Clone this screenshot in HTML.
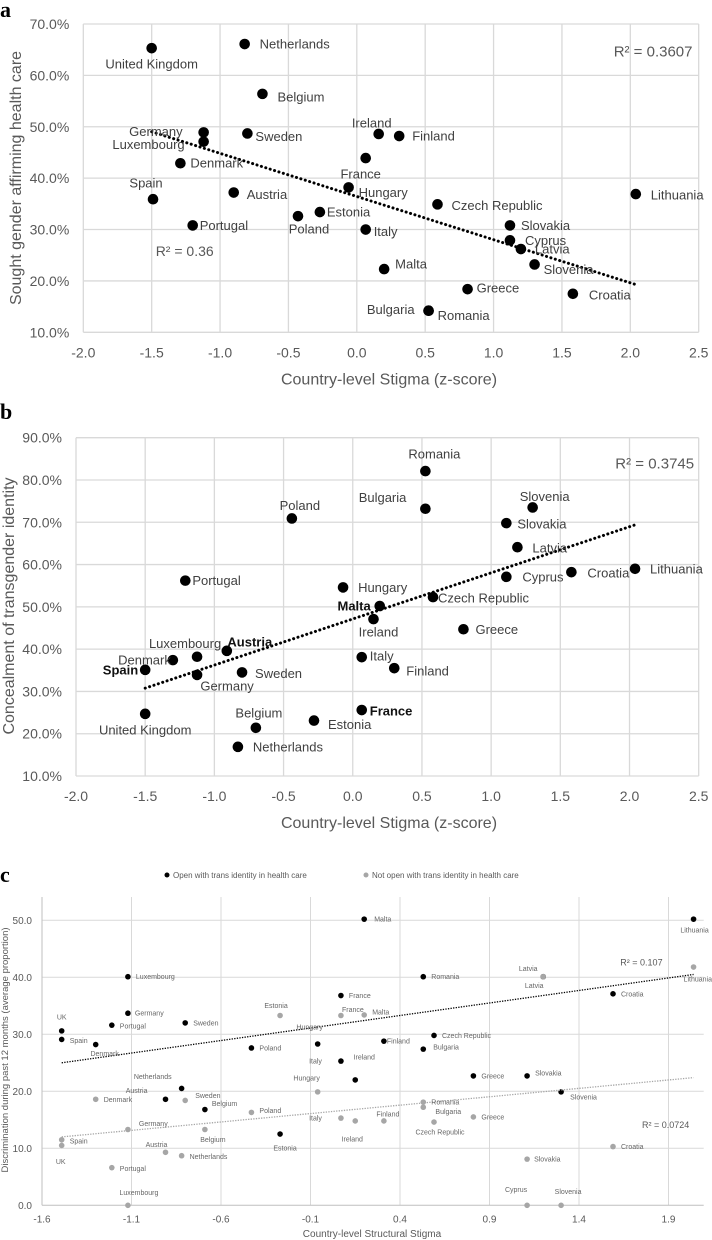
<!DOCTYPE html>
<html><head><meta charset="utf-8">
<style>
html,body{margin:0;padding:0;background:#fff;}
svg{display:block;font-family:"Liberation Sans",sans-serif;}
</style></head>
<body>
<svg id="chart" width="712" height="1240" viewBox="0 0 712 1240" xmlns="http://www.w3.org/2000/svg">
<text x="0" y="17" font-family="Liberation Serif,serif" font-weight="bold" font-size="22" fill="#000">a</text>
<text x="0" y="419" font-family="Liberation Serif,serif" font-weight="bold" font-size="22" fill="#000">b</text>
<text x="0" y="882" font-family="Liberation Serif,serif" font-weight="bold" font-size="22" fill="#000">c</text>
</svg>
<script>
// ---- Panel A data ----
const aCountries = ["United Kingdom","Netherlands","Belgium","Germany","Luxembourg","Sweden","Denmark","Spain","Austria","Portugal","Poland","Estonia","Hungary","France","Ireland","Finland","Czech Republic","Italy","Malta","Greece","Bulgaria","Romania","Slovakia","Cyprus","Latvia","Slovenia","Croatia","Lithuania"];
const aStigma = [-1.5,-0.82,-0.69,-1.12,-1.12,-0.80,-1.29,-1.49,-0.90,-1.20,-0.43,-0.27,-0.06,0.065,0.16,0.31,0.59,0.065,0.20,0.81,0.525,0.525,1.12,1.12,1.20,1.30,1.58,2.04];
const aValues = [65.3,66.1,56.4,48.9,47.1,48.7,42.9,35.9,37.2,30.8,32.6,33.4,38.2,43.9,48.6,48.2,34.9,30.0,22.3,18.4,14.2,14.2,30.8,27.9,26.2,23.2,17.5,36.9];
const aLabelPos = [[0,16,"middle"],[15,0,"start"],[15,3,"start"],[-21,-1,"end"],[-19,3,"end"],[8,3,"start"],[10,0,"start"],[-7,-16,"middle"],[13,2,"start"],[7,0,"start"],[11,13,"middle"],[7,0,"start"],[10,5,"start"],[-5,16,"middle"],[-7,-11,"middle"],[13,0,"start"],[14,1,"start"],[8,2,"start"],[11,-5,"start"],[9,-1,"start"],[-14,-1,"end"],[9,5,"start"],[11,0,"start"],[15,0,"start"],[14,0,"start"],[9,5,"start"],[16,1,"start"],[15,1,"start"]];
// ---- Panel B data ----
const bCountries = ["Poland","Portugal","Hungary","Luxembourg","Austria","Denmark","Spain","Germany","Sweden","United Kingdom","Belgium","Netherlands","Estonia","France","Italy","Finland","Romania","Bulgaria","Slovenia","Slovakia","Latvia","Cyprus","Croatia","Lithuania","Czech Republic","Malta","Ireland","Greece"];
const bStigma = [-0.44,-1.21,-0.07,-1.125,-0.91,-1.30,-1.50,-1.125,-0.80,-1.50,-0.70,-0.83,-0.28,0.065,0.065,0.30,0.525,0.525,1.30,1.11,1.19,1.11,1.58,2.04,0.58,0.195,0.15,0.80];
const bValues = [70.9,56.2,54.6,38.2,39.6,37.4,35.1,33.9,34.5,24.7,21.4,16.9,23.1,25.6,38.1,35.5,82.1,73.2,73.5,69.8,64.1,57.1,58.2,59.0,52.3,50.2,47.1,44.7];
const bLabelPos = [[8,-13,"middle"],[7,0,"start"],[15,0,"start"],[-12,-13,"middle"],[23,-9,"middle"],[-2,0,"end"],[-7,0,"end"],[30,11,"middle"],[13,1,"start"],[0,16,"middle"],[3,-15,"middle"],[15,0,"start"],[14,4,"start"],[8,1,"start"],[8,-1,"start"],[12,3,"start"],[9,-17,"middle"],[-19,-11,"end"],[12,-11,"middle"],[11,1,"start"],[15,1,"start"],[16,0,"start"],[16,1,"start"],[15,0,"start"],[5,1,"start"],[-9,0,"end"],[5,13,"middle"],[12,0,"start"]];
const bBold = ["Spain","Austria","Malta","France"];
// ---- Panel C data ----
const cOpenCountries = ["Luxembourg","Germany","Portugal","Sweden","UK","Spain","Denmark","Poland","Netherlands","Austria","Belgium","Estonia","France","Hungary","Italy","Ireland","Romania","Croatia","Czech Republic","Finland","Bulgaria","Greece","Slovakia","Slovenia","Malta","Lithuania","Latvia"];
const cOpenStigma = [-1.12,-1.12,-1.21,-0.80,-1.49,-1.49,-1.30,-0.43,-0.82,-0.91,-0.69,-0.27,0.07,-0.06,0.07,0.15,0.53,1.59,0.59,0.31,0.53,0.81,1.11,1.30,0.20,2.04,1.20];
const cOpenValues = [40.1,33.7,31.6,32.0,30.6,29.1,28.2,27.6,20.5,18.6,16.8,12.5,36.8,28.3,25.3,22.0,40.1,37.1,29.8,28.8,27.4,22.7,22.7,19.9,50.2,50.2,40.1];
const cOpenLabelPos = [[8,0,"start"],[7,0,"start"],[8,1,"start"],[8,0,"start"],[0,-14,"middle"],[8,1,"start"],[9,9,"middle"],[8,0,"start"],[-10,-12,"end"],[-18,-9,"end"],[7,-6,"start"],[5,14,"middle"],[8,0,"start"],[-8,-17,"middle"],[-19,0,"end"],[9,-23,"middle"],[8,0,"start"],[8,0,"start"],[8,0,"start"],[3,0,"start"],[10,-2,"start"],[8,0,"start"],[8,-3,"start"],[9,5,"start"],[10,0,"start"],[1,11,"middle"],[-9,9,"middle"]];
const cHiddenCountries = ["Estonia","France","Malta","Denmark","Sweden","Poland","Hungary","Germany","Belgium","Spain","UK","Austria","Netherlands","Portugal","Luxembourg","Italy","Ireland","Latvia","Lithuania","Romania","Bulgaria","Finland","Czech Republic","Greece","Croatia","Slovakia","Cyprus","Slovenia"];
const cHiddenStigma = [-0.27,0.07,0.20,-1.30,-0.80,-0.43,-0.06,-1.12,-0.69,-1.49,-1.49,-0.91,-0.82,-1.21,-1.12,0.07,0.15,1.20,2.04,0.53,0.53,0.31,0.59,0.81,1.59,1.11,1.11,1.30];
const cHiddenValues = [33.3,33.3,33.4,18.6,18.4,16.3,19.9,13.3,13.3,11.5,10.5,9.3,8.7,6.6,0.0,15.3,14.8,40.1,41.8,18.1,17.2,14.8,14.6,15.5,10.3,8.1,0.0,0.0];
const cHiddenLabelPos = [[-4,-10,"middle"],[12,-6,"middle"],[8,-3,"start"],[8,0,"start"],[10,-5,"start"],[8,-2,"start"],[-11,-14,"middle"],[11,-6,"start"],[8,10,"middle"],[8,1,"start"],[-1,16,"middle"],[-9,-8,"middle"],[8,1,"start"],[8,1,"start"],[11,-13,"middle"],[-19,0,"end"],[-3,18,"middle"],[-15,-8,"middle"],[-10,12,"start"],[8,0,"start"],[25,4,"middle"],[4,-7,"middle"],[6,10,"middle"],[8,0,"start"],[8,0,"start"],[7,0,"start"],[-11,-16,"middle"],[7,-14,"middle"]];
// trendline endpoints (stigma, value)
const cOpenTrendX = [-1.49,2.04];
const cOpenTrendY = [25.0,40.5];
const cHiddenTrendX = [-1.49,2.04];
const cHiddenTrendY = [12.0,22.4];
const abXTicks = ["-2.0","-1.5","-1.0","-0.5","0.0","0.5","1.0","1.5","2.0","2.5"];
const aYTicks = [10,20,30,40,50,60,70];
const bYTicks = [10,20,30,40,50,60,70,80,90];
const cXTicks = ["-1.6","-1.1","-0.6","-0.1","0.4","0.9","1.4","1.9"];
const cYTicks = [0,10,20,30,40,50];

const NS="http://www.w3.org/2000/svg";
const svg=document.getElementById('chart');
function mk(tag,attrs,parent,text){const e=document.createElementNS(NS,tag);for(const k in attrs)e.setAttribute(k,attrs[k]);if(text!==undefined)e.textContent=text;(parent||svg).appendChild(e);return e;}
function regress(xs,ys){const n=xs.length;let sx=0,sy=0,sxx=0,sxy=0;for(let i=0;i<n;i++){sx+=xs[i];sy+=ys[i];sxx+=xs[i]*xs[i];sxy+=xs[i]*ys[i];}const m=(n*sxy-sx*sy)/(n*sxx-sx*sx);return {m:m,b:(sy-m*sx)/n};}

function drawBig(o){
  const g=mk('g',{});
  
  
  const X=v=>o.x0+(v-(-2))*(o.x1-o.x0)/4.5;
  const Y=v=>o.y1-(v-o.ymin)*(o.y1-o.y0)/(o.ymax-o.ymin);
  abXTicks.forEach(t=>{const v=parseFloat(t);const l=mk('line',{x1:X(v),x2:X(v),y1:o.y0,y2:o.y1,stroke:'#d9d9d9','stroke-width':1.3},g);
    
    const tx=mk('text',{x:X(v),y:o.y1+25,'text-anchor':'middle','font-size':14,fill:'#595959'},g,t);
    });
  o.yticks.forEach(v=>{const l=mk('line',{x1:o.x0,x2:o.x1,y1:Y(v),y2:Y(v),stroke:'#d9d9d9','stroke-width':1.3},g);
    
    const tx=mk('text',{x:o.x0-14,y:Y(v)+5,'text-anchor':'end','font-size':14,fill:'#595959'},g,v.toFixed(1)+'%');
    });
  const xt=mk('text',{x:389,y:o.y1+52,'text-anchor':'middle','font-size':16,fill:'#595959'},g,'Country-level Stigma (z-score)');
  
  const yt=mk('text',{x:0,y:0,transform:`translate(${o.ytx},${o.yty}) rotate(-90)`,'text-anchor':'middle','font-size':16,fill:'#595959'},g,o.ytitle);
  
  const r=regress(o.xs,o.ys);const mn=Math.min(...o.xs),mx=Math.max(...o.xs);
  const tl=mk('line',{x1:X(mn),y1:Y(r.m*mn+r.b),x2:X(mx),y2:Y(r.m*mx+r.b),stroke:'#000','stroke-width':3,'stroke-dasharray':'0.1,4.5','stroke-linecap':'round'},g);
  
  o.xs.forEach((v,i)=>{const cx=X(v),cy=Y(o.ys[i]);
    const c=mk('circle',{cx:cx,cy:cy,r:5.3,fill:'#000'},g);
    
    const p=o.lp[i];const bold=o.bold&&o.bold.includes(o.names[i]);
    const t=mk('text',{x:cx+p[0],y:cy+p[1]+4.5,'text-anchor':p[2],'font-size':13,fill:bold?'#111':'#404040','font-weight':bold?'bold':'normal'},g,o.names[i]);
    });
  o.r2.forEach(q=>{const t=mk('text',{x:q[0],y:q[1]+5,'font-size':q[3],fill:'#595959'},g,q[2]);
    });
}
drawBig({name:'panel-a',x0:83.3,x1:698.7,y0:24,y1:332.3,ymin:10,ymax:70,yticks:aYTicks,xs:aStigma,ys:aValues,names:aCountries,lp:aLabelPos,
  ytitle:'Sought gender affirming health care',ytx:21,yty:178,r2:[[155.7,251,'R² = 0.36',14],[613.7,51.7,'R² = 0.3607',15]]});
drawBig({name:'panel-b',x0:76,x1:698.7,y0:437.7,y1:776,ymin:10,ymax:90,yticks:bYTicks,xs:bStigma,ys:bValues,names:bCountries,lp:bLabelPos,bold:bBold,
  ytitle:'Concealment of transgender identity',ytx:14,yty:606,r2:[[615.3,463.3,'R² = 0.3745',15]]});

(function(){
  const g=mk('g',{});
  
  
  const x0=42,x1=703.7,y0=897,y1=1205.3;
  const X=v=>x0+(v+1.6)*179, Y=v=>y1-v*5.7;
  cXTicks.forEach(t=>{const v=parseFloat(t);
    if(v>-1.6){const l=mk('line',{x1:X(v),x2:X(v),y1:y0,y2:y1,stroke:'#d9d9d9','stroke-width':1},g);
      }
    const tx=mk('text',{x:X(v),y:y1+17,'text-anchor':'middle','font-size':10,fill:'#595959'},g,t);
    });
  cYTicks.forEach(v=>{const l=mk('line',{x1:x0,x2:x1,y1:Y(v),y2:Y(v),stroke:v===0?'#bfbfbf':'#d9d9d9','stroke-width':1},g);
    
    const tx=mk('text',{x:32,y:Y(v)+3.5,'text-anchor':'end','font-size':10,fill:'#595959'},g,v.toFixed(1));
    });
  const ax=mk('line',{x1:x0,x2:x0,y1:y0,y2:y1,stroke:'#bfbfbf','stroke-width':1},g);
  
  const xt=mk('text',{x:372,y:1237,'text-anchor':'middle','font-size':10,fill:'#595959'},g,'Country-level Structural Stigma');
  
  const yt=mk('text',{x:0,y:0,transform:'translate(8,1050) rotate(-90)','text-anchor':'middle','font-size':9.5,fill:'#595959'},g,'Discrimination during past 12 months (average proportion)');
  
  const l1=mk('circle',{cx:167,cy:875,r:2.5,fill:'#000'},g);
  
  const lt1=mk('text',{x:173,y:878,'font-size':8,fill:'#595959'},g,'Open with trans identity in health care');
  
  const l2=mk('circle',{cx:366,cy:875,r:2.5,fill:'#a6a6a6'},g);
  
  const lt2=mk('text',{x:372,y:878,'font-size':8,fill:'#595959'},g,'Not open with trans identity in health care');
  
  function series(xs,ys,names,lp,color,tx,ty,nm){
    const tl=mk('line',{x1:X(tx[0]),y1:Y(ty[0]),x2:X(tx[1]),y2:Y(ty[1]),stroke:color,'stroke-width':1.3,'stroke-dasharray':'1.3,1.3'},g);
    
    xs.forEach((v,i)=>{const cx=X(v),cy=Y(ys[i]);
      const c=mk('circle',{cx:cx,cy:cy,r:2.8,fill:color},g);
      
      const p=lp[i];
      const t=mk('text',{x:cx+p[0],y:cy+p[1]+2.5,'text-anchor':p[2],'font-size':7,fill:'#666'},g,names[i]);
      });
  }
  series(cOpenStigma,cOpenValues,cOpenCountries,cOpenLabelPos,'#000',cOpenTrendX,cOpenTrendY,'open');
  series(cHiddenStigma,cHiddenValues,cHiddenCountries,cHiddenLabelPos,'#a6a6a6',cHiddenTrendX,cHiddenTrendY,'not-open');
  const r1=mk('text',{x:620.3,y:965.5,'font-size':9,fill:'#595959'},g,'R² = 0.107');
  
  const r2=mk('text',{x:642,y:1128,'font-size':9,fill:'#595959'},g,'R² = 0.0724');
  
})();
</script>
</body></html>
